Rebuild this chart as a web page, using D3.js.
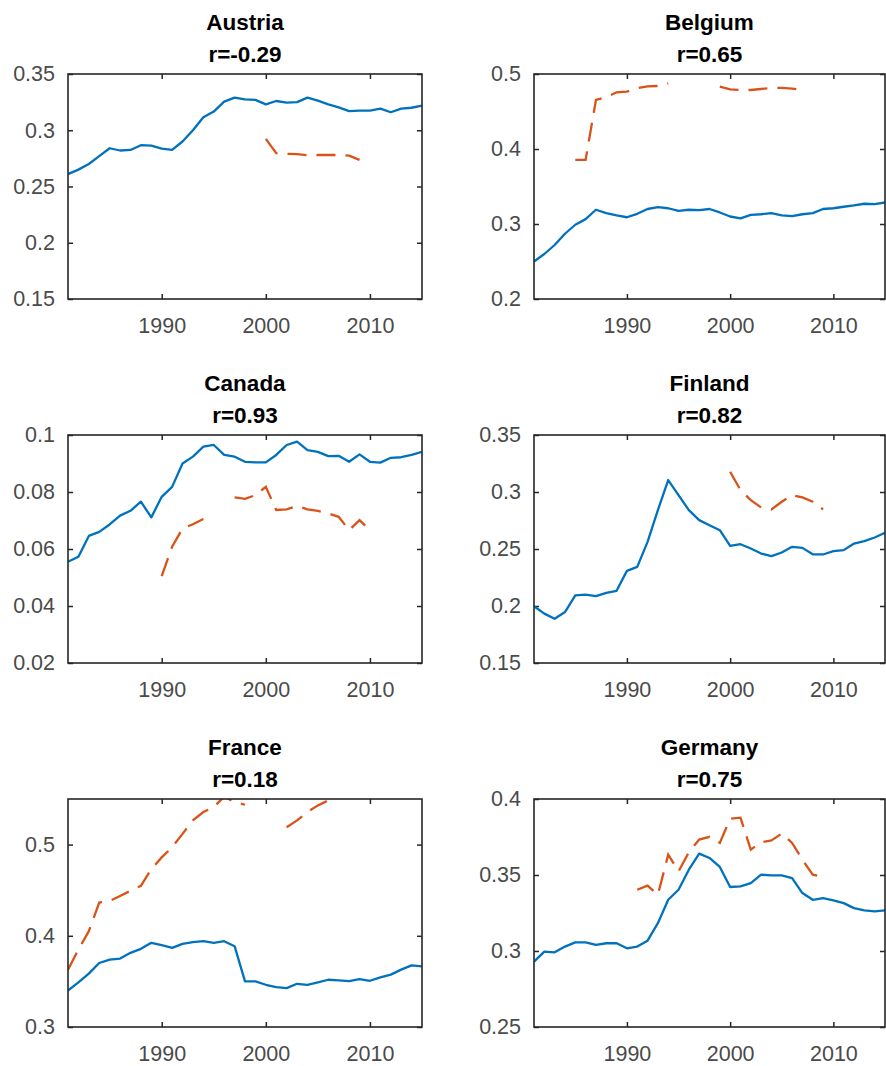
<!DOCTYPE html>
<html>
<head>
<meta charset="utf-8">
<style>
  body { margin: 0; background: #fff; }
  svg { display: block; font-family: "Liberation Sans", Arial, Helvetica, sans-serif; }
  .frame { fill: none; stroke: #262626; stroke-width: 1.6; }
  .axis path.domain { display: none; }
  .axis line { stroke: #262626; stroke-width: 1.5; }
  .axis text { fill: #4a4a4a; font-size: 21.5px; font-family: "Liberation Sans", Arial, sans-serif; }
  .title { fill: #000; font-size: 22.5px; font-weight: bold; text-anchor: middle; }
  .lineA { fill: none; stroke: #0072BD; stroke-width: 2.3; stroke-linejoin: round; }
  .lineB { fill: none; stroke: #D95319; stroke-width: 2.3; stroke-dasharray: 19,10; }
</style>
</head>
<body>
<svg width="886" height="1066"></svg>
<script src="https://cdn.jsdelivr.net/npm/d3@7/dist/d3.min.js"></script>
<script>
// years on the x axis
var years = [1981, 1982, 1983, 1984, 1985, 1986, 1987, 1988, 1989, 1990,
             1991, 1992, 1993, 1994, 1995, 1996, 1997, 1998, 1999, 2000,
             2001, 2002, 2003, 2004, 2005, 2006, 2007, 2008, 2009, 2010,
             2011, 2012, 2013, 2014, 2015];
var xTicks = [1990, 2000, 2010];

var countries = ["Austria", "Belgium", "Canada", "Finland", "France", "Germany"];
var rValues = ["-0.29", "0.65", "0.93", "0.82", "0.18", "0.75"];

// solid series, one value per year
var austriaA = [0.261, 0.265, 0.270, 0.277, 0.284, 0.282, 0.2825, 0.2867, 0.2864, 0.2837,
                0.2826, 0.290, 0.300, 0.3115, 0.3166, 0.3254, 0.329, 0.3275, 0.327, 0.323,
                0.326, 0.3245, 0.325, 0.329, 0.3264, 0.323, 0.3204, 0.317, 0.3175, 0.3175,
                0.3192, 0.316, 0.3192, 0.320, 0.3219];
var belgiumA = [0.250, 0.260, 0.272, 0.287, 0.299, 0.3065, 0.319, 0.3145, 0.3114, 0.309,
                0.3136, 0.320, 0.3225, 0.321, 0.3176, 0.319, 0.3185, 0.320, 0.3154, 0.310,
                0.3074, 0.3122, 0.313, 0.3145, 0.3114, 0.3105, 0.313, 0.3145, 0.320, 0.321,
                0.323, 0.3247, 0.327, 0.3265, 0.3287];
var canadaA = [0.0555, 0.0573, 0.0646, 0.066, 0.0686, 0.0717, 0.0734, 0.0766, 0.0711, 0.0783,
               0.0818, 0.090, 0.0924, 0.0959, 0.0965, 0.093, 0.0924, 0.0906, 0.0904, 0.0904,
               0.093, 0.0965, 0.0977, 0.0947, 0.0941, 0.0926, 0.0927, 0.0906, 0.0932, 0.0906,
               0.0903, 0.092, 0.0922, 0.093, 0.0941];
var finlandA = [0.1998, 0.1933, 0.1888, 0.1947, 0.2094, 0.210, 0.2086, 0.2115, 0.2133, 0.2308,
                0.2343, 0.2563, 0.2841, 0.3105, 0.2973, 0.2841, 0.2753, 0.2709, 0.2665, 0.2528,
                0.2542, 0.2504, 0.246, 0.2437, 0.2469, 0.2519, 0.251, 0.2454, 0.2452, 0.2481,
                0.249, 0.2548, 0.2569, 0.2601, 0.2642];
var franceA = [0.340, 0.3489, 0.3585, 0.3702, 0.3739, 0.375, 0.3813, 0.3857, 0.3923, 0.3897,
               0.3868, 0.3912, 0.393, 0.3941, 0.3923, 0.3941, 0.3886, 0.350, 0.350, 0.3463,
               0.3437, 0.3426, 0.3474, 0.3463, 0.3489, 0.3518, 0.3511, 0.3504, 0.3526, 0.3507,
               0.3544, 0.3574, 0.3629, 0.3676, 0.3665];
var germanyA = [0.293, 0.2996, 0.2991, 0.3029, 0.3057, 0.3057, 0.304, 0.3051, 0.3051, 0.3018,
                0.3029, 0.3068, 0.3183, 0.3337, 0.3403, 0.3535, 0.3641, 0.3612, 0.3553, 0.3421,
                0.3425, 0.3447, 0.3502, 0.3498, 0.3498, 0.348, 0.3381, 0.3337, 0.3348, 0.3333,
                0.3315, 0.3282, 0.3267, 0.326, 0.3267];

// dashed series, null where there is no value
var austriaB = [null, null, null, null, null, null, null, null, null, null,
                null, null, null, null, null, null, null, null, null, 0.2923,
                0.2796, 0.279, 0.2787, 0.2778, 0.278, 0.278, 0.278, 0.2775, 0.2737, null,
                null, null, null, null, null];
var belgiumB = [null, null, null, null, 0.3855, 0.3855, 0.4654, 0.469, 0.4756, 0.4765,
                0.481, 0.4836, 0.484, 0.4876, null, null, null, null, 0.4831, 0.4796,
                0.4787, 0.4787, 0.480, 0.4814, 0.4814, 0.4805, 0.4787, null, null, null,
                null, null, null, null, null];
var canadaB = [null, null, null, null, null, null, null, null, null, 0.0505,
               0.0608, 0.0672, 0.0687, 0.0705, null, null, 0.0781, 0.0776, 0.0789, 0.0818,
               0.0737, 0.0739, 0.0751, 0.0739, 0.0734, 0.0725, 0.0713, 0.0666, 0.0701, 0.0666,
               null, null, null, null, null];
var finlandB = [null, null, null, null, null, null, null, null, null, null,
                null, null, null, null, null, null, null, null, null, 0.3178,
                0.3017, 0.2929, 0.2865, 0.2847, 0.2914, 0.2973, 0.2952, 0.2914, 0.2847, null,
                null, null, null, null, null];
var franceB = [0.3629, 0.3849, 0.4051, 0.4364, 0.4382, 0.4437, 0.4493, 0.4548, 0.4732, 0.486,
               0.4971, 0.5118, 0.5265, 0.5357, 0.5412, 0.5525, 0.5467, 0.5437, null, null,
               null, 0.5191, 0.5265, 0.5357, 0.543, 0.5485, 0.5535, null, null, null,
               null, null, null, null, null];
var germanyB = [null, null, null, null, null, null, null, null, null, null,
                0.3403, 0.343, 0.337, 0.3634, 0.3524, 0.365, 0.3733, 0.3751, 0.3711, 0.387,
                0.3877, 0.3667, 0.3716, 0.3727, 0.3773, 0.3711, 0.3601, 0.3502, 0.3487, null,
                null, null, null, null, null];

// y axis ranges and ticks
var yDomains = [[0.15, 0.35], [0.2, 0.5], [0.02, 0.1], [0.15, 0.35], [0.3, 0.55], [0.25, 0.4]];
var yTicks = [
    [0.15, 0.2, 0.25, 0.3, 0.35],
    [0.2, 0.3, 0.4, 0.5],
    [0.02, 0.04, 0.06, 0.08, 0.1],
    [0.15, 0.2, 0.25, 0.3, 0.35],
    [0.3, 0.4, 0.5],
    [0.25, 0.3, 0.35, 0.4]
];
var seriesA = [austriaA, belgiumA, canadaA, finlandA, franceA, germanyA];
var seriesB = [austriaB, belgiumB, canadaB, finlandB, franceB, germanyB];

var svg = d3.select("svg");

var cols = [{x: 68, w: 354}, {x: 534, w: 351}],
    rows = [{y: 74, h: 225}, {y: 435, h: 228}, {y: 799, h: 228}];

var fmt = function(d) { return String(+d.toFixed(3)); };

countries.forEach(function(name, i) {
    var c = cols[i % 2], r = rows[Math.floor(i / 2)];

    var x = d3.scaleLinear().domain([1981, 2015]).range([0, c.w]),
        y = d3.scaleLinear().domain(yDomains[i]).range([r.h, 0]);

    var g = svg.append("g")
        .attr("transform", "translate(" + c.x + "," + r.y + ")");

    g.append("clipPath")
        .attr("id", "clip" + i)
      .append("rect")
        .attr("width", c.w)
        .attr("height", r.h);

    // ticks on all four sides, pointing inward like MATLAB
    g.append("g")
        .attr("class", "axis")
        .attr("transform", "translate(0," + r.h + ")")
        .call(d3.axisBottom(x).tickValues(xTicks).tickSizeInner(-5).tickSizeOuter(0)
            .tickPadding(19).tickFormat(d3.format("d")));
    g.append("g")
        .attr("class", "axis")
        .call(d3.axisTop(x).tickValues(xTicks).tickSizeInner(-5).tickSizeOuter(0)
            .tickFormat(""));
    g.append("g")
        .attr("class", "axis")
        .call(d3.axisLeft(y).tickValues(yTicks[i]).tickSizeInner(-5).tickSizeOuter(0)
            .tickPadding(13).tickFormat(fmt));
    g.append("g")
        .attr("class", "axis")
        .attr("transform", "translate(" + c.w + ",0)")
        .call(d3.axisRight(y).tickValues(yTicks[i]).tickSizeInner(-5).tickSizeOuter(0)
            .tickFormat(""));

    var line = d3.line()
        .defined(function(d) { return d[1] != null; })
        .x(function(d) { return x(d[0]); })
        .y(function(d) { return y(d[1]); });

    var plot = g.append("g").attr("clip-path", "url(#clip" + i + ")");

    plot.append("path")
        .attr("class", "lineA")
        .attr("d", line(years.map(function(yr, k) { return [yr, seriesA[i][k]]; })));

    plot.append("path")
        .attr("class", "lineB")
        .attr("d", line(years.map(function(yr, k) { return [yr, seriesB[i][k]]; })));

    g.append("rect")
        .attr("class", "frame")
        .attr("width", c.w)
        .attr("height", r.h);

    g.append("text")
        .attr("class", "title")
        .attr("x", c.w / 2)
        .attr("y", -44)
        .text(name);
    g.append("text")
        .attr("class", "title")
        .attr("x", c.w / 2)
        .attr("y", -12)
        .text("r=" + rValues[i]);
});
</script>
</body>
</html>
